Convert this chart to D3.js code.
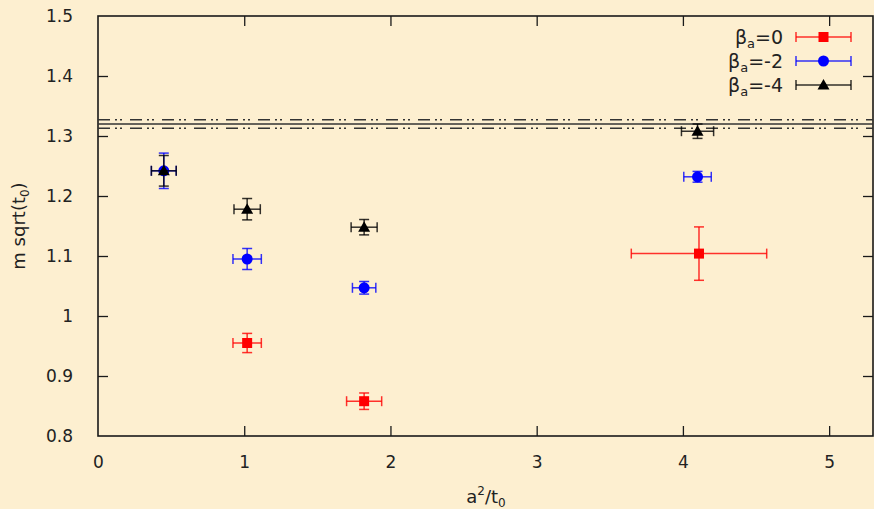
<!DOCTYPE html>
<html>
<head>
<meta charset="utf-8">
<script src="https://cdn.jsdelivr.net/npm/d3@7"></script>
<style>
  html, body { margin: 0; padding: 0; background: #fdefd0; }
  svg { display: block; font-family: "DejaVu Sans", sans-serif; }
</style>
</head>
<body>
<svg id="chart" width="874" height="509"></svg>
<script>
// Series: x = a^2/t0 (with error), y = m sqrt(t0) (with error)
const seriesNames = ["β_a=0", "β_a=-2", "β_a=-4"];
const seriesColors = ["#ff0000", "#0000ff", "#000000"];
const seriesShapes = ["square", "circle", "triangle"];

const xBeta0 = [1.02, 1.82, 4.11];
const xErrBeta0 = [0.097, 0.12, 0.463];
const yBeta0 = [0.955, 0.858, 1.104];
const yErrBeta0 = [0.016, 0.0137, 0.0445];

const xBeta2 = [0.45, 1.02, 1.82, 4.10];
const xErrBeta2 = [0.085, 0.097, 0.08, 0.094];
const yBeta2 = [1.242, 1.095, 1.047, 1.232];
const yErrBeta2 = [0.0295, 0.0175, 0.0105, 0.009];

const xBeta4 = [0.45, 1.02, 1.82, 4.10];
const xErrBeta4 = [0.085, 0.09, 0.089, 0.11];
const yBeta4 = [1.242, 1.178, 1.148, 1.308];
const yErrBeta4 = [0.0255, 0.0178, 0.0128, 0.012];

// Continuum reference band
const bandCenter = 1.32;
const bandHalfWidth = 0.007;

const xTicks = [0, 1, 2, 3, 4, 5];
const yTicks = [0.8, 0.9, 1.0, 1.1, 1.2, 1.3, 1.4, 1.5];

const xDomain = [0, 5.3];
const yDomain = [0.8, 1.5];

const series = [
  { x: xBeta0, xe: xErrBeta0, y: yBeta0, ye: yErrBeta0 },
  { x: xBeta2, xe: xErrBeta2, y: yBeta2, ye: yErrBeta2 },
  { x: xBeta4, xe: xErrBeta4, y: yBeta4, ye: yErrBeta4 }
].map((s, i) => ({
  name: seriesNames[i], color: seriesColors[i], shape: seriesShapes[i],
  points: s.x.map((xv, j) => ({ x: xv, xe: s.xe[j], y: s.y[j], ye: s.ye[j] }))
}));

const svg = d3.select("#chart");
const W = 874, H = 509;
const margin = { left: 98, right: 1, top: 16, bottom: 73 };
const x = d3.scaleLinear().domain(xDomain).range([margin.left, W - margin.right]);
const y = d3.scaleLinear().domain(yDomain).range([H - margin.bottom, margin.top]);

svg.append("rect").attr("width", W).attr("height", H).attr("fill", "#fdefd0");

const axisColor = "#1a1a1a";
const textColor = "#222";
const tickLen = 10;

// Axes with inward ticks on all four sides
const gx = svg.append("g").attr("transform", `translate(0,${y.range()[0]})`)
  .call(d3.axisBottom(x).tickValues(xTicks).tickSizeInner(-tickLen).tickSizeOuter(0).tickPadding(20).tickFormat(d3.format("d")));
const gxTop = svg.append("g").attr("transform", `translate(0,${y.range()[1]})`)
  .call(d3.axisTop(x).tickValues(xTicks).tickSizeInner(-tickLen).tickSizeOuter(0).tickFormat(""));
const gy = svg.append("g").attr("transform", `translate(${x.range()[0]},0)`)
  .call(d3.axisLeft(y).tickValues(yTicks).tickSizeInner(-tickLen).tickSizeOuter(0).tickPadding(25).tickFormat(d => d === 1 ? "1" : d3.format(".1f")(d)));
const gyRight = svg.append("g").attr("transform", `translate(${x.range()[1]},0)`)
  .call(d3.axisRight(y).tickValues(yTicks).tickSizeInner(-tickLen).tickSizeOuter(0).tickFormat(""));

[gx, gxTop, gy, gyRight].forEach(g => {
  g.select(".domain").remove();
  g.selectAll(".tick line").attr("stroke", axisColor).attr("stroke-width", 1.3);
  g.selectAll(".tick text").attr("fill", textColor).attr("font-size", 17)
    .attr("font-family", "DejaVu Sans, sans-serif");
});
gx.selectAll(".tick text").attr("dy", "0.71em");
// hide edge ticks that coincide with the frame
gx.selectAll(".tick line").filter(d => d === 0).remove();
gxTop.selectAll(".tick line").filter(d => d === 0).remove();
gy.selectAll(".tick line").filter(d => d === 0.8 || d === 1.5).remove();
gyRight.selectAll(".tick line").filter(d => d === 0.8 || d === 1.5).remove();

// Frame
svg.append("rect")
  .attr("x", x.range()[0]).attr("y", y.range()[1])
  .attr("width", x.range()[1] - x.range()[0]).attr("height", y.range()[0] - y.range()[1])
  .attr("fill", "none").attr("stroke", axisColor).attr("stroke-width", 1.6);

// Reference band: central value and dash-dot-dot error lines
const dashDotDot = "12,5,2,3,2,8";
const bandLines = [
  { v: bandCenter + bandHalfWidth, dash: dashDotDot },
  { v: bandCenter, dash: null },
  { v: bandCenter - bandHalfWidth, dash: dashDotDot }
];
svg.append("g").selectAll("line").data(bandLines).join("line")
  .attr("x1", x.range()[0]).attr("x2", x.range()[1])
  .attr("y1", d => y(d.v)).attr("y2", d => y(d.v))
  .attr("stroke", "#333").attr("stroke-width", 1.6)
  .attr("stroke-dasharray", d => d.dash);

const cap = 5;
function drawMarker(g, shape, color, cx, cy) {
  if (shape === "square") {
    g.append("rect").attr("x", cx - 5).attr("y", cy - 5).attr("width", 10).attr("height", 10).attr("fill", color);
  } else if (shape === "circle") {
    g.append("circle").attr("cx", cx).attr("cy", cy).attr("r", 5.5).attr("fill", color);
  } else {
    g.append("path").attr("d", `M${cx},${cy - 6}L${cx + 6},${cy + 4.5}L${cx - 6},${cy + 4.5}Z`).attr("fill", color);
  }
}

series.forEach(s => {
  const g = svg.append("g");
  s.points.forEach(p => {
    const cx = x(p.x), cy = y(p.y);
    const x0 = x(p.x - p.xe), x1 = x(p.x + p.xe);
    const y0 = y(p.y - p.ye), y1 = y(p.y + p.ye);
    const lines = [
      [x0, cy, x1, cy], [cx, y0, cx, y1],
      [x0, cy - cap, x0, cy + cap], [x1, cy - cap, x1, cy + cap],
      [cx - cap, y0, cx + cap, y0], [cx - cap, y1, cx + cap, y1]
    ];
    lines.forEach(l => g.append("line")
      .attr("x1", l[0]).attr("y1", l[1]).attr("x2", l[2]).attr("y2", l[3])
      .attr("stroke", s.color).attr("stroke-width", 1.5).attr("stroke-opacity", 0.8));
    drawMarker(g, s.shape, s.color, cx, cy);
  });
});

// Legend
const legendRows = [37, 61, 85];
series.forEach((s, i) => {
  const ly = legendRows[i];
  const g = svg.append("g");
  const parts = s.name.split("_");
  const rest = parts[1].slice(1);
  const t = g.append("text").attr("x", 783).attr("y", ly).attr("dy", "0.35em")
    .attr("text-anchor", "end").attr("font-size", 19).attr("fill", textColor);
  t.append("tspan").text(parts[0]);
  t.append("tspan").attr("font-size", 13).attr("dy", 4).text(parts[1][0]);
  t.append("tspan").attr("dy", -4).text(rest);
  const lx0 = 796, lx1 = 851, lc = (lx0 + lx1) / 2;
  [[lx0, ly, lx1, ly], [lx0, ly - cap, lx0, ly + cap], [lx1, ly - cap, lx1, ly + cap]]
    .forEach(l => g.append("line").attr("x1", l[0]).attr("y1", l[1]).attr("x2", l[2]).attr("y2", l[3])
      .attr("stroke", s.color).attr("stroke-width", 1.5).attr("stroke-opacity", 0.8));
  drawMarker(g, s.shape, s.color, lc, ly);
});

// Axis titles
const yTitle = svg.append("text")
  .attr("transform", `translate(25,226) rotate(-90)`)
  .attr("text-anchor", "middle").attr("font-size", 18).attr("fill", textColor);
yTitle.append("tspan").text("m sqrt(t");
yTitle.append("tspan").attr("font-size", 12).attr("dy", 4).text("0");
yTitle.append("tspan").attr("dy", -4).text(")");

const xTitle = svg.append("text")
  .attr("x", 486).attr("y", 503)
  .attr("text-anchor", "middle").attr("font-size", 18).attr("fill", textColor);
xTitle.append("tspan").text("a");
xTitle.append("tspan").attr("font-size", 12).attr("dy", -8).text("2");
xTitle.append("tspan").attr("dy", 8).text("/t");
xTitle.append("tspan").attr("font-size", 12).attr("dy", 4).text("0");
</script>
</body>
</html>
